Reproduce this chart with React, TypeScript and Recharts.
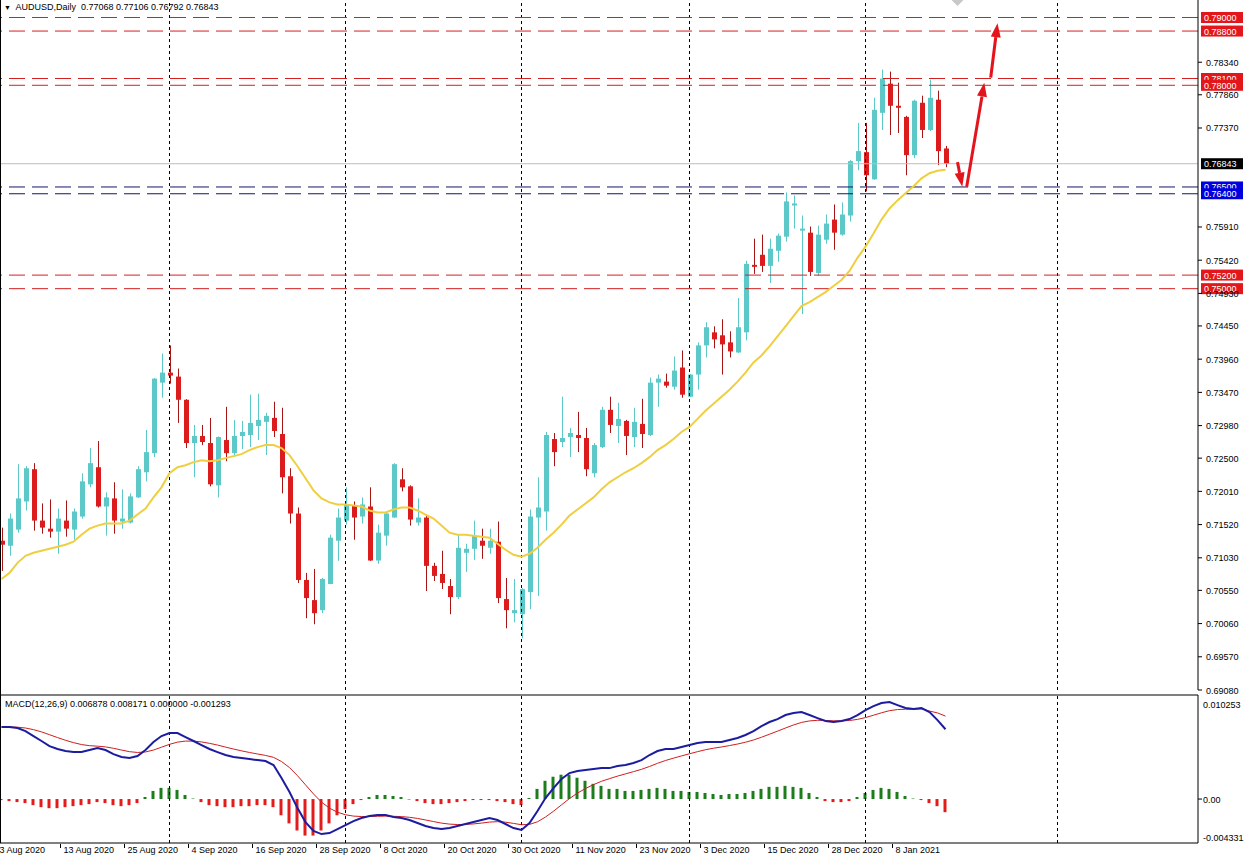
import React from 'react';
import { ComposedChart, Bar, Line, XAxis, YAxis, ReferenceLine, ReferenceDot, Cell } from 'recharts';

// AUDUSD daily, 3 Aug 2020 .. 18 Jan 2021
const OPEN = [
  0.71282, 0.71208, 0.71446, 0.71861, 0.72337, 0.71579, 0.7146, 0.71416, 0.71579, 0.71446,
  0.71639, 0.72114, 0.72366, 0.71787, 0.71906, 0.71564, 0.7155, 0.71921, 0.72292, 0.72574,
  0.73614, 0.73762, 0.73703, 0.73361, 0.72723, 0.72827, 0.72723, 0.72099, 0.72767, 0.72574,
  0.72827, 0.72842, 0.72975, 0.73035, 0.73094, 0.72856, 0.72233, 0.71683, 0.70703, 0.70406,
  0.70258, 0.70644, 0.71282, 0.71579, 0.71802, 0.71639, 0.71787, 0.7099, 0.71357, 0.71624,
  0.72188, 0.72084, 0.7155, 0.71624, 0.70911, 0.70792, 0.70614, 0.70451, 0.71104, 0.71163,
  0.71282, 0.71178, 0.71267, 0.70421, 0.70213, 0.70198, 0.70525, 0.71624, 0.71713, 0.72782,
  0.72738, 0.72812, 0.72842, 0.72797, 0.72277, 0.72663, 0.73213, 0.72975, 0.73049, 0.72812,
  0.73005, 0.72842, 0.73614, 0.73629, 0.73554, 0.73837, 0.73406, 0.73733, 0.74163, 0.74356,
  0.74312, 0.74208, 0.74059, 0.74356, 0.75351, 0.755, 0.75336, 0.75559, 0.75767, 0.76227,
  0.75856, 0.75826, 0.75232, 0.75722, 0.76019, 0.75797, 0.76079, 0.76881, 0.77014, 0.76613,
  0.77594, 0.78024, 0.77698, 0.77534, 0.7697, 0.77742, 0.77341, 0.77787, 0.77068,
];
const HIGH = [
  0.71475, 0.71683, 0.72411, 0.72381, 0.72426, 0.71832, 0.71891, 0.71757, 0.71876, 0.71757,
  0.72277, 0.72649, 0.72752, 0.71995, 0.72144, 0.7204, 0.7198, 0.72381, 0.72916, 0.7368,
  0.74044, 0.74163, 0.73822, 0.7337, 0.7299, 0.7299, 0.73094, 0.7282, 0.73257, 0.73064,
  0.73049, 0.73436, 0.7345, 0.73168, 0.73332, 0.73243, 0.72351, 0.71772, 0.70807, 0.70866,
  0.70733, 0.71371, 0.71757, 0.72069, 0.71861, 0.71921, 0.72069, 0.7152, 0.71698, 0.72426,
  0.72351, 0.72099, 0.71906, 0.71654, 0.70956, 0.71134, 0.70718, 0.71371, 0.71238, 0.71579,
  0.7146, 0.7146, 0.71564, 0.70733, 0.70718, 0.70584, 0.71743, 0.72218, 0.72886, 0.72871,
  0.73406, 0.72946, 0.73183, 0.72946, 0.72723, 0.73257, 0.73406, 0.73317, 0.73064, 0.73243,
  0.73376, 0.73688, 0.73733, 0.73747, 0.74, 0.74089, 0.7374, 0.74208, 0.74505, 0.74445,
  0.74549, 0.74371, 0.74861, 0.75411, 0.75737, 0.75797, 0.75737, 0.75812, 0.7642, 0.76376,
  0.76079, 0.75916, 0.7593, 0.76094, 0.76242, 0.76272, 0.76896, 0.77445, 0.77445, 0.77816,
  0.78232, 0.78202, 0.78039, 0.77549, 0.77787, 0.77846, 0.78084, 0.7792, 0.77106,
];
const LOW = [
  0.70837, 0.7106, 0.71401, 0.71728, 0.71431, 0.71386, 0.71327, 0.71089, 0.71342, 0.71297,
  0.71609, 0.72069, 0.71772, 0.71357, 0.71386, 0.7146, 0.71535, 0.71912, 0.72158, 0.72515,
  0.73391, 0.73599, 0.7302, 0.72649, 0.72218, 0.72693, 0.72084, 0.71921, 0.72455, 0.72515,
  0.72634, 0.72663, 0.72767, 0.72545, 0.72812, 0.7198, 0.71535, 0.70659, 0.70139, 0.7005,
  0.70213, 0.7064, 0.70985, 0.7152, 0.71297, 0.71535, 0.70985, 0.70941, 0.71208, 0.7162,
  0.7201, 0.71505, 0.71505, 0.7054, 0.70688, 0.70569, 0.70198, 0.70421, 0.70822, 0.71,
  0.71015, 0.71089, 0.70362, 0.6999, 0.70079, 0.69842, 0.70272, 0.70466, 0.71431, 0.72381,
  0.72663, 0.72515, 0.72589, 0.72233, 0.72218, 0.72649, 0.72871, 0.72723, 0.72545, 0.72663,
  0.72649, 0.72827, 0.73257, 0.7354, 0.7351, 0.73391, 0.734, 0.7351, 0.73985, 0.74119,
  0.73733, 0.73985, 0.7405, 0.74237, 0.75218, 0.75247, 0.75084, 0.75396, 0.75693, 0.75886,
  0.74624, 0.75188, 0.75188, 0.75663, 0.75574, 0.75782, 0.7599, 0.76747, 0.76435, 0.76605,
  0.77341, 0.77267, 0.77297, 0.76673, 0.76925, 0.77222, 0.77326, 0.76821, 0.76792,
];
const CLOSE = [
  0.71223, 0.71609, 0.71906, 0.72351, 0.71579, 0.71475, 0.71416, 0.71609, 0.7146, 0.71713,
  0.72158, 0.72426, 0.71787, 0.71921, 0.71579, 0.71609, 0.71936, 0.72337, 0.72589, 0.73673,
  0.73762, 0.73718, 0.73361, 0.72723, 0.72827, 0.72738, 0.72114, 0.72812, 0.72574, 0.72827,
  0.72886, 0.7302, 0.73064, 0.73124, 0.72901, 0.72218, 0.71683, 0.70703, 0.70436, 0.70213,
  0.70718, 0.71327, 0.71624, 0.71817, 0.71624, 0.71817, 0.7099, 0.71401, 0.71683, 0.72411,
  0.72069, 0.71594, 0.71624, 0.70911, 0.70763, 0.70659, 0.70451, 0.71178, 0.71163, 0.71357,
  0.71208, 0.71282, 0.70436, 0.70258, 0.70258, 0.70569, 0.71639, 0.71772, 0.72842, 0.72589,
  0.72797, 0.72871, 0.72797, 0.72337, 0.72693, 0.73213, 0.7299, 0.73079, 0.72827, 0.73035,
  0.72856, 0.73614, 0.73673, 0.73569, 0.73792, 0.73436, 0.73733, 0.74163, 0.74431, 0.74252,
  0.74178, 0.74074, 0.74431, 0.75366, 0.75322, 0.75336, 0.75589, 0.75782, 0.76287, 0.76257,
  0.75886, 0.75247, 0.75797, 0.7596, 0.75826, 0.76094, 0.76881, 0.77029, 0.76673, 0.77638,
  0.78098, 0.77698, 0.77668, 0.7697, 0.77772, 0.77341, 0.77816, 0.77029, 0.76843,
];
const MA20 = [
  0.70718, 0.70807, 0.70956, 0.7106, 0.71104, 0.71134, 0.71163, 0.71193, 0.71223, 0.71267,
  0.71371, 0.7146, 0.71505, 0.71535, 0.71535, 0.71535, 0.71579, 0.71668, 0.71757, 0.71921,
  0.72069, 0.72277, 0.72366, 0.72396, 0.72441, 0.7247, 0.72455, 0.7247, 0.725, 0.7253,
  0.72559, 0.72619, 0.72663, 0.72693, 0.72693, 0.72649, 0.72545, 0.72381, 0.72203, 0.72025,
  0.71906, 0.71847, 0.71817, 0.71817, 0.71802, 0.71787, 0.71728, 0.71698, 0.71698, 0.71743,
  0.71772, 0.71772, 0.71728, 0.71668, 0.71609, 0.71505, 0.71401, 0.71371, 0.71371, 0.71357,
  0.71342, 0.71327, 0.71238, 0.71149, 0.71074, 0.71045, 0.71089, 0.71178, 0.71297, 0.71401,
  0.7152, 0.71654, 0.71743, 0.71832, 0.71921, 0.7204, 0.72144, 0.72218, 0.72292, 0.72351,
  0.72426, 0.72515, 0.72619, 0.72693, 0.72782, 0.72886, 0.7296, 0.73079, 0.73198, 0.73302,
  0.73406, 0.7351, 0.73629, 0.73762, 0.73911, 0.74015, 0.74148, 0.74297, 0.74445, 0.74594,
  0.74742, 0.74802, 0.74876, 0.7495, 0.75039, 0.75128, 0.75262, 0.75455, 0.75619, 0.75812,
  0.76019, 0.76183, 0.76302, 0.76406, 0.7651, 0.76628, 0.76703, 0.7674, 0.76755,
];
const MACD_MAIN = [
  0.0071, 0.0071, 0.007, 0.0067, 0.00621, 0.00572, 0.00522, 0.00493, 0.00473, 0.00463,
  0.00463, 0.00483, 0.00503, 0.00483, 0.00443, 0.00414, 0.00404, 0.00424, 0.00483, 0.00562,
  0.00621, 0.0065, 0.0065, 0.00611, 0.00572, 0.00532, 0.00493, 0.00463, 0.00434, 0.00414,
  0.00404, 0.00394, 0.00384, 0.00374, 0.00335, 0.00207, 0.00069, -0.00089, -0.00227, -0.00315,
  -0.00345, -0.00335, -0.00296, -0.00256, -0.00217, -0.00187, -0.00168, -0.00158, -0.00158, -0.00177,
  -0.00187, -0.00207, -0.00236, -0.00266, -0.00286, -0.00296, -0.00286, -0.00266, -0.00246, -0.00227,
  -0.00207, -0.00187, -0.00207, -0.00246, -0.00286, -0.00305, -0.00236, -0.00118, 0.0001, 0.00108,
  0.00197, 0.00256, 0.00276, 0.00286, 0.00296, 0.00305, 0.00305, 0.00325, 0.00335, 0.00355,
  0.00384, 0.00434, 0.00473, 0.00493, 0.00493, 0.00512, 0.00532, 0.00552, 0.00562, 0.00562,
  0.00562, 0.00581, 0.00601, 0.00631, 0.0067, 0.00719, 0.00759, 0.00788, 0.00828, 0.00847,
  0.00857, 0.00828, 0.00798, 0.00769, 0.00759, 0.00769, 0.00788, 0.00828, 0.00877, 0.00916,
  0.00946, 0.00956, 0.00926, 0.00897, 0.00887, 0.00897, 0.00857, 0.00778, 0.006878,
];
const MACD_SIGNAL = [
  0.0071, 0.0071, 0.00708, 0.007, 0.00684, 0.00662, 0.00634, 0.00606, 0.00579, 0.00556,
  0.00537, 0.00526, 0.00521, 0.00514, 0.005, 0.00483, 0.00467, 0.00459, 0.00464, 0.00483,
  0.00511, 0.00539, 0.00561, 0.00571, 0.00571, 0.00563, 0.00549, 0.00532, 0.00512, 0.00493,
  0.00475, 0.00459, 0.00444, 0.0043, 0.00411, 0.0037, 0.0031, 0.0023, 0.0014, 0.0005,
  -0.0003, -0.0009, -0.0013, -0.00155, -0.00168, -0.00172, -0.00172, -0.0017, -0.00168, -0.0017,
  -0.00173, -0.0018, -0.00191, -0.00206, -0.00222, -0.00237, -0.00247, -0.00251, -0.0025, -0.00245,
  -0.00237, -0.00227, -0.00223, -0.00228, -0.0024, -0.00253, -0.0025, -0.00224, -0.00177, -0.0012,
  -0.00057, 0.00005, 0.00059, 0.00104, 0.00142, 0.00175, 0.00201, 0.00226, 0.00248, 0.0027,
  0.00293, 0.00321, 0.00352, 0.0038, 0.00403, 0.00425, 0.00446, 0.00467, 0.00486, 0.00501,
  0.00513, 0.00527, 0.00542, 0.0056, 0.00582, 0.00609, 0.00639, 0.00669, 0.007, 0.0073,
  0.00755, 0.0077, 0.00776, 0.00774, 0.00771, 0.00771, 0.00774, 0.00785, 0.00803, 0.00826,
  0.0085, 0.00871, 0.00882, 0.00885, 0.00885, 0.00887, 0.00867, 0.00849, 0.008171,
];
const MACD_HIST = [
  -0.0001, -0.0002, -0.0003, -0.0004, -0.0006, -0.0008, -0.0009, -0.0009, -0.0008, -0.0007,
  -0.0006, -0.0005, -0.0003, -0.0004, -0.0006, -0.0007, -0.0006, -0.0004, 0.0002, 0.0008,
  0.0011, 0.0011, 0.0009, 0.0004, 0.00005, -0.0003, -0.0006, -0.0007, -0.0008, -0.0008,
  -0.0007, -0.0007, -0.0006, -0.0006, -0.0008, -0.0016, -0.0024, -0.0031, -0.0036, -0.0036,
  -0.0031, -0.0024, -0.0016, -0.001, -0.0005, -0.0001, 0.0002, 0.0004, 0.0004, 0.0003,
  0.0002, -0.00005, -0.0002, -0.0004, -0.0005, -0.0005, -0.0004, -0.0003, -0.0002, -0.0001,
  -0.0001, -0.0001, -0.0002, -0.0003, -0.0005, -0.0006, 0.0001, 0.001, 0.0018, 0.0022,
  0.0024, 0.0024, 0.0021, 0.0018, 0.0015, 0.0013, 0.001, 0.001, 0.0008, 0.0008,
  0.0009, 0.001, 0.0011, 0.001, 0.0008, 0.0008, 0.0007, 0.0007, 0.0006, 0.0005,
  0.0004, 0.0005, 0.0005, 0.0006, 0.0008, 0.001, 0.0012, 0.0012, 0.0013, 0.0012,
  0.0011, 0.0006, 0.0002, -0.0002, -0.0003, -0.0003, -0.0002, 0.0002, 0.0006, 0.0009,
  0.0011, 0.001, 0.0007, 0.0003, 0.00005, -0.0001, -0.0004, -0.0007, -0.001293,
];

const DATE_LABELS = [
  '3 Aug 2020', '13 Aug 2020', '25 Aug 2020', '4 Sep 2020', '16 Sep 2020', '28 Sep 2020',
  '8 Oct 2020', '20 Oct 2020', '30 Oct 2020', '11 Nov 2020', '23 Nov 2020', '3 Dec 2020',
  '15 Dec 2020', '28 Dec 2020', '8 Jan 2021',
];
const DATE_TICKS = DATE_LABELS.map((_, k) => k * 8);
const GRID_BARS = [21, 43, 65, 86, 108, 132];

// 0.76880 and 0.76390 sit under the price tags, so they are not listed
const PRICE_TICKS = [
  0.7834, 0.7786, 0.7737, 0.7591, 0.7542, 0.7493, 0.7445, 0.7396,
  0.7347, 0.7298, 0.725, 0.7201, 0.7152, 0.7103, 0.7055, 0.7006, 0.6957, 0.6908,
];
const RED_LEVELS = [0.79, 0.788, 0.781, 0.78, 0.752, 0.75];
const BLUE_LEVELS = [0.765, 0.764];
const LAST_PRICE = 0.76843;

// hand-drawn arrows: start bar/price -> tip bar/price
const ARROW_X0 = [119.5, 120.65, 123.65];
const ARROW_Y0 = [0.76866, 0.76505, 0.78113];
const ARROW_X1 = [120.1, 122.85, 124.5];
const ARROW_Y1 = [0.76505, 0.78039, 0.78915];

const X_DOMAIN: [number, number] = [-0.1875, 149.5625];
const PRICE_DOMAIN: [number, number] = [0.6908, 0.79258];
const MACD_DOMAIN: [number, number] = [-0.004331, 0.010253];

const FONT = '"Liberation Sans", Arial, sans-serif';
const BULL = '#5cc8c8';
const BEAR = '#dc1c1c';
const BEAR_WICK = '#a81515';
const LEVEL_RED = '#d42020';
const LEVEL_BLUE = '#15156b';
const ARROW_RED = '#e3141c';

const rows = OPEN.map((o, i) => ({
  i,
  o,
  h: HIGH[i],
  l: LOW[i],
  c: CLOSE[i],
  ma: MA20[i],
  macd: MACD_MAIN[i],
  sig: MACD_SIGNAL[i],
  hist: MACD_HIST[i],
}));

function Candle(props: any) {
  const { x, y, width, height, payload } = props;
  if (!payload) return null;
  const { o, h, l, c } = payload;
  const top = Math.min(y, y + height);
  const span = Math.abs(height);
  const k = h - l > 0 ? span / (h - l) : 0;
  const cx = Math.round(x + width / 2) + 0.5;
  const up = c >= o;
  const bTop = top + (h - Math.max(o, c)) * k;
  const bBot = top + (h - Math.min(o, c)) * k;
  return (
    <g>
      <line x1={cx} x2={cx} y1={top} y2={top + span} stroke={up ? BULL : BEAR_WICK} strokeWidth={1} />
      <rect x={cx - 2.5} y={bTop} width={5} height={Math.max(1, bBot - bTop)} fill={up ? BULL : BEAR} />
    </g>
  );
}

const tag = (text: string, bg: string) => (props: any) => {
  const vb = props.viewBox;
  if (!vb) return null;
  const x = vb.x + vb.width + 3;
  const y = vb.y;
  return (
    <g>
      <rect x={x} y={y - 5.5} width={42} height={11} fill={bg} />
      <text x={x + 3} y={y + 3.5} fill="#fff" fontSize={9} fontFamily={FONT}>
        {text}
      </text>
    </g>
  );
};

function PriceTick(props: any) {
  const { x, y, payload } = props;
  return (
    <g>
      <line x1={x} x2={x + 4} y1={y} y2={y} stroke="#000" />
      <text x={x + 8} y={y + 3.5} fontSize={9} fontFamily={FONT} fill="#000">
        {payload.value.toFixed(5)}
      </text>
    </g>
  );
}

function MacdTick(props: any) {
  const { x, y, payload } = props;
  const v = payload.value;
  let label = '0.00';
  let dy = 3.5;
  if (v > 0) {
    label = v.toFixed(6);
    dy = 12.5;
  } else if (v < 0) {
    label = v.toFixed(6);
    dy = -2.5;
  }
  return (
    <g>
      {v === 0 && <line x1={x} x2={x + 4} y1={y} y2={y} stroke="#000" />}
      <text x={x + 5} y={y + dy} fontSize={9} fontFamily={FONT} fill="#000">
        {label}
      </text>
    </g>
  );
}

function DateTick(props: any) {
  const { x, y, payload } = props;
  const label = DATE_LABELS[Math.round(payload.value / 8)];
  return (
    <g>
      <line x1={x - 5} x2={x - 5} y1={y + 1} y2={y + 5} stroke="#000" />
      <text x={x - 2} y={y + 10} fontSize={9} fontFamily={FONT} fill="#000">
        {label}
      </text>
    </g>
  );
}

function arrowShape(p: any) {
  const { x1, y1, x2, y2 } = p;
  const dx = x2 - x1;
  const dy = y2 - y1;
  const len = Math.hypot(dx, dy) || 1;
  const ux = dx / len;
  const uy = dy / len;
  const hl = 14;
  const hw = 5;
  const bx = x2 - ux * hl;
  const by = y2 - uy * hl;
  const pts = `${x2},${y2} ${bx - uy * hw},${by + ux * hw} ${bx + uy * hw},${by - ux * hw}`;
  return (
    <g>
      <line x1={x1} y1={y1} x2={bx} y2={by} stroke={ARROW_RED} strokeWidth={3} />
      <polygon points={pts} fill={ARROW_RED} />
    </g>
  );
}

function shiftMark(p: any) {
  const { cx, cy } = p;
  return <polygon points={`${cx - 6},${cy} ${cx + 6},${cy} ${cx},${cy + 6}`} fill="#c8c8c8" />;
}

export default function App() {
  return (
    <div style={{ position: 'absolute', left: 0, top: 0, width: 1245, height: 855, background: '#fff', overflow: 'hidden' }}>
      <div style={{ position: 'absolute', left: 0, top: 0 }}>
        <ComposedChart width={1245} height={700} data={rows} margin={{ top: 0, right: 0, left: 0, bottom: 10 }}>
          <XAxis type="number" dataKey="i" domain={X_DOMAIN} ticks={[]} tick={false} tickLine={false} height={0} axisLine={{ stroke: '#000' }} />
          <YAxis
            orientation="right"
            type="number"
            domain={PRICE_DOMAIN}
            ticks={PRICE_TICKS}
            interval={0}
            width={47}
            tickSize={0}
            tickMargin={0}
            tickLine={false}
            tick={<PriceTick />}
            axisLine={{ stroke: '#000' }}
          />
          {GRID_BARS.map((g) => (
            <ReferenceLine key={'g' + g} x={g} stroke="#000" strokeDasharray="3 3" />
          ))}
          <ReferenceLine y={LAST_PRICE} stroke="#bdbdbd" />
          {RED_LEVELS.map((v) => (
            <ReferenceLine key={'r' + v} y={v} stroke={LEVEL_RED} strokeDasharray="16 7" label={tag(v.toFixed(5), '#e3161b')} />
          ))}
          {BLUE_LEVELS.map((v) => (
            <ReferenceLine key={'b' + v} y={v} stroke={LEVEL_BLUE} strokeDasharray="16 7" label={tag(v.toFixed(5), '#0000dc')} />
          ))}
          <ReferenceLine y={LAST_PRICE} stroke="none" label={tag(LAST_PRICE.toFixed(5), '#000')} />
          <Bar dataKey={(d: any) => [d.l, d.h]} barSize={6} shape={(p: any) => <Candle {...p} />} isAnimationActive={false} />
          <Line type="linear" dataKey="ma" stroke="#efcf3f" strokeWidth={2} dot={false} activeDot={false} isAnimationActive={false} />
          {ARROW_X0.map((x0, k) => (
            <ReferenceLine
              key={'a' + k}
              segment={[
                { x: x0, y: ARROW_Y0[k] },
                { x: ARROW_X1[k], y: ARROW_Y1[k] },
              ]}
              stroke={ARROW_RED}
              shape={arrowShape}
              ifOverflow="visible"
            />
          ))}
          <ReferenceDot x={119.5} y={PRICE_DOMAIN[1]} r={0} shape={shiftMark} ifOverflow="visible" />
        </ComposedChart>
      </div>

      <div style={{ position: 'absolute', left: 0, top: 690 }}>
        <ComposedChart width={1245} height={165} data={rows} margin={{ top: 5, right: 0, left: 0, bottom: 0 }}>
          <XAxis
            type="number"
            dataKey="i"
            domain={X_DOMAIN}
            ticks={DATE_TICKS}
            interval={0}
            height={12}
            tickSize={0}
            tickMargin={0}
            tickLine={false}
            tick={<DateTick />}
            axisLine={{ stroke: '#000' }}
          />
          <YAxis
            orientation="right"
            type="number"
            domain={MACD_DOMAIN}
            ticks={[MACD_DOMAIN[1], 0, MACD_DOMAIN[0]]}
            interval={0}
            width={47}
            tickSize={0}
            tickMargin={0}
            tickLine={false}
            tick={<MacdTick />}
            axisLine={{ stroke: '#000' }}
          />
          <ReferenceLine y={MACD_DOMAIN[1]} stroke="#000" />
          {GRID_BARS.map((g) => (
            <ReferenceLine key={'mg' + g} x={g} stroke="#000" strokeDasharray="3 3" />
          ))}
          <Bar dataKey="hist" barSize={3} isAnimationActive={false}>
            {rows.map((r) => (
              <Cell key={r.i} fill={r.hist >= 0 ? '#1d7d1d' : '#e21b1b'} />
            ))}
          </Bar>
          <Line type="linear" dataKey="sig" stroke="#cc1f1f" strokeWidth={1} dot={false} activeDot={false} isAnimationActive={false} />
          <Line type="linear" dataKey="macd" stroke="#1c1ca0" strokeWidth={2} dot={false} activeDot={false} isAnimationActive={false} />
        </ComposedChart>
      </div>

      <div style={{ position: 'absolute', left: 0, top: 0, width: 1, height: 843, background: '#000' }} />
      <div style={{ position: 'absolute', left: 4, top: 0, fontFamily: FONT, fontSize: 9, lineHeight: '14px', color: '#000', whiteSpace: 'pre' }}>
        <span style={{ fontSize: 7 }}>▼</span>
        {'  AUDUSD,Daily  0.77068 0.77106 0.76792 0.76843'}
      </div>
      <div style={{ position: 'absolute', left: 5, top: 697, fontFamily: FONT, fontSize: 9, lineHeight: '14px', color: '#000', whiteSpace: 'pre' }}>
        {'MACD(12,26,9) 0.006878 0.008171 0.000000 -0.001293'}
      </div>
    </div>
  );
}
